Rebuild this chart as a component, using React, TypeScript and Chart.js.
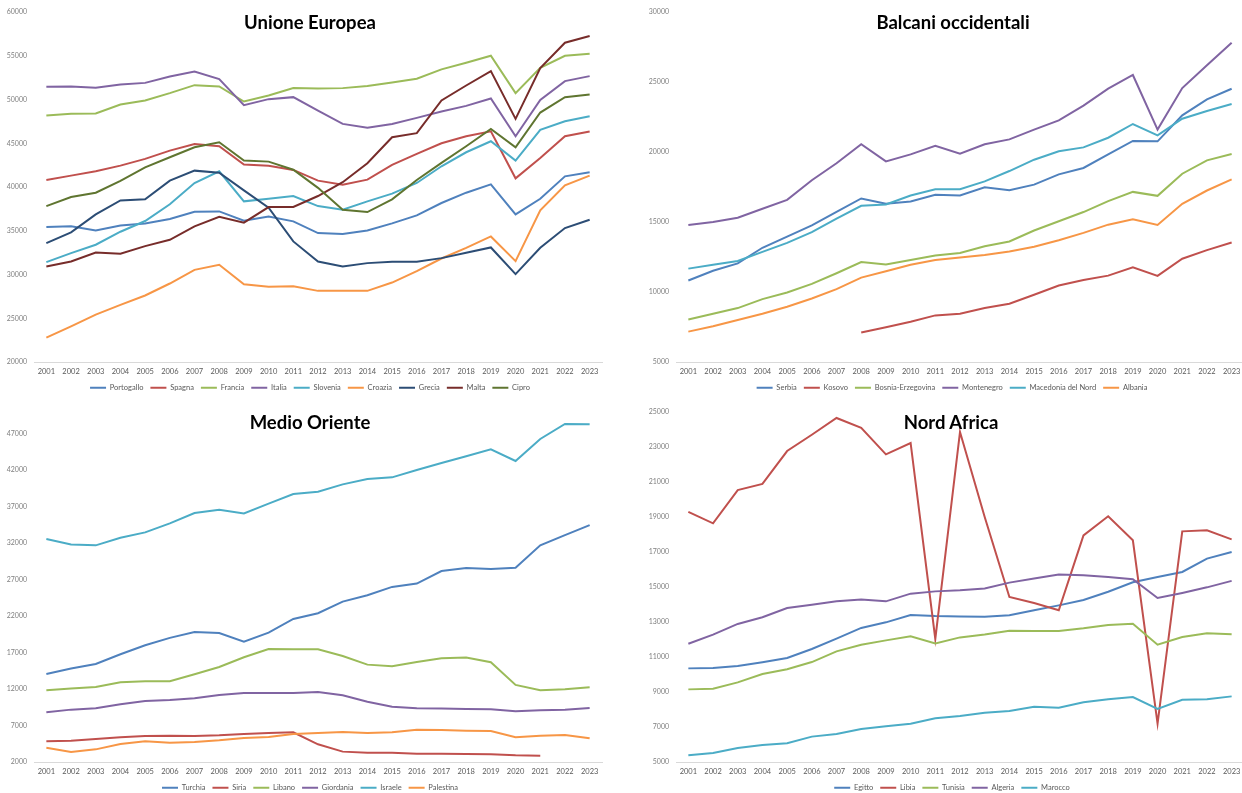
import React, { useEffect, useRef } from "react";
import { Chart, registerables } from "chart.js";

Chart.register(...registerables);

const FONT = "Lato, 'Open Sans', sans-serif";

const years = ["2001", "2002", "2003", "2004", "2005", "2006", "2007", "2008", "2009", "2010", "2011", "2012", "2013", "2014", "2015", "2016", "2017", "2018", "2019", "2020", "2021", "2022", "2023"];

// Unione Europea
const ueTicks = [20000, 25000, 30000, 35000, 40000, 45000, 50000, 55000, 60000];
const portogallo = [35420, 35500, 35040, 35610, 35840, 36340, 37180, 37210, 36150, 36640, 36070, 34730, 34620, 35040, 35840, 36760, 38170, 39350, 40300, 36870, 38660, 41220, 41680];
const spagna = [40800, 41300, 41790, 42440, 43210, 44160, 44920, 44660, 42560, 42440, 41950, 40730, 40270, 40840, 42520, 43780, 45000, 45800, 46370, 40990, 43320, 45800, 46340];
const francia = [48170, 48360, 48400, 49430, 49890, 50730, 51640, 51490, 49770, 50460, 51300, 51260, 51300, 51530, 51950, 52370, 53440, 54200, 55000, 50730, 53630, 55000, 55230];
const italia = [51450, 51490, 51340, 51720, 51900, 52630, 53200, 52330, 49350, 50040, 50270, 48740, 47210, 46760, 47210, 47900, 48630, 49270, 50110, 45800, 49960, 52100, 52670];
const slovenia = [31410, 32440, 33400, 34890, 36110, 38020, 40460, 41790, 38360, 38660, 38970, 37820, 37400, 38360, 39240, 40460, 42370, 43970, 45230, 43020, 46530, 47520, 48090];
const croazia = [22790, 24080, 25420, 26530, 27600, 28970, 30530, 31110, 28890, 28590, 28660, 28130, 28130, 28130, 29080, 30380, 31830, 33050, 34350, 31530, 37330, 40190, 41300];
const grecia = [33590, 34810, 36870, 38470, 38590, 40730, 41870, 41640, 39620, 37630, 33780, 31490, 30920, 31300, 31450, 31450, 31870, 32480, 33090, 30040, 33050, 35310, 36260];
const malta = [30920, 31490, 32520, 32370, 33240, 33970, 35500, 36600, 35920, 37710, 37710, 38970, 40550, 42710, 45690, 46150, 49890, 51600, 53240, 47790, 53590, 56490, 57250];
const cipro = [37820, 38850, 39350, 40700, 42250, 43400, 44540, 45110, 43020, 42900, 41980, 39900, 37400, 37140, 38590, 40800, 42750, 44660, 46640, 44540, 48510, 50270, 50570];

// Balcani occidentali
const balcaniTicks = [5000, 10000, 15000, 20000, 25000, 30000];
const serbia = [10820, 11520, 12040, 13160, 13960, 14760, 15730, 16680, 16300, 16470, 16940, 16890, 17480, 17270, 17670, 18400, 18860, 19830, 20790, 20760, 22620, 23760, 24520];
const kosovo = [null, null, null, null, null, null, null, 7100, 7480, 7880, 8330, 8450, 8850, 9160, 9800, 10460, 10860, 11170, 11760, 11150, 12380, 12990, 13530];
const bosnia = [8030, 8450, 8850, 9490, 9960, 10580, 11340, 12140, 11970, 12280, 12610, 12780, 13270, 13610, 14390, 15050, 15710, 16490, 17150, 16870, 18450, 19400, 19860];
const montenegro = [14790, 15000, 15310, 15950, 16580, 17980, 19200, 20550, 19330, 19830, 20450, 19880, 20550, 20900, 21600, 22260, 23310, 24520, 25500, 21600, 24570, 26190, 27810];
const macedonia = [11670, 11950, 12210, 12870, 13510, 14270, 15240, 16160, 16250, 16890, 17340, 17340, 17900, 18640, 19450, 20050, 20330, 21020, 22000, 21190, 22380, 22930, 23430];
const albania = [7170, 7550, 8000, 8450, 8950, 9540, 10200, 11030, 11480, 11950, 12280, 12470, 12640, 12900, 13230, 13700, 14220, 14810, 15190, 14790, 16300, 17250, 18050];

// Medio Oriente
const moTicks = [2000, 7000, 12000, 17000, 22000, 27000, 32000, 37000, 42000, 47000];
const turchia = [14050, 14790, 15420, 16750, 17980, 18990, 19810, 19670, 18480, 19720, 21590, 22370, 23960, 24830, 25970, 26430, 28140, 28550, 28420, 28600, 31660, 33070, 34440];
const siria = [4830, 4920, 5150, 5380, 5560, 5610, 5560, 5650, 5840, 5970, 6070, 4420, 3420, 3280, 3280, 3140, 3140, 3100, 3050, 2920, 2870, null, null];
const libano = [11820, 12050, 12270, 12910, 13050, 13050, 14010, 15010, 16340, 17480, 17430, 17430, 16520, 15330, 15110, 15700, 16200, 16290, 15650, 12550, 11820, 11950, 12230];
const giordania = [8800, 9170, 9350, 9900, 10360, 10490, 10720, 11180, 11450, 11450, 11450, 11590, 11130, 10260, 9580, 9350, 9310, 9260, 9220, 8940, 9080, 9170, 9400];
const israele = [32520, 31790, 31660, 32710, 33440, 34670, 36090, 36540, 36040, 37370, 38690, 39010, 40010, 40740, 40970, 41980, 42940, 43850, 44810, 43210, 46220, 48280, 48230];
const palestina = [3960, 3370, 3730, 4470, 4830, 4650, 4740, 4970, 5290, 5420, 5840, 5970, 6110, 5970, 6070, 6430, 6390, 6290, 6250, 5380, 5610, 5700, 5240];

// Nord Africa
const naTicks = [5000, 7000, 9000, 11000, 13000, 15000, 17000, 19000, 21000, 23000, 25000];
const egitto = [10350, 10370, 10490, 10700, 10940, 11460, 12050, 12660, 12980, 13400, 13340, 13320, 13300, 13380, 13670, 13950, 14260, 14730, 15270, 15570, 15860, 16620, 17000];
const libia = [19290, 18640, 20540, 20890, 22770, 23700, 24660, 24100, 22580, 23230, 12030, 23860, 19000, 14430, 14090, 13670, 17950, 19040, 17670, 7190, 18180, 18240, 17720];
const tunisia = [9150, 9190, 9550, 10030, 10300, 10710, 11320, 11700, 11950, 12180, 11780, 12120, 12280, 12500, 12490, 12490, 12640, 12830, 12900, 11700, 12140, 12350, 12300];
const algeria = [11760, 12280, 12890, 13270, 13800, 13990, 14180, 14280, 14180, 14620, 14750, 14810, 14920, 15250, 15480, 15720, 15670, 15570, 15440, 14370, 14660, 14980, 15350];
const marocco = [5380, 5510, 5800, 5970, 6070, 6450, 6600, 6890, 7040, 7190, 7500, 7630, 7820, 7910, 8160, 8100, 8410, 8580, 8710, 8030, 8560, 8580, 8750];

const BLUE = "#4F81BD";
const RED = "#C0504D";
const GREEN = "#9BBB59";
const PURPLE = "#8064A2";
const AQUA = "#4BACC6";
const ORANGE = "#F79646";
const DBLUE = "#2C4D75";
const DRED = "#772C2A";
const DGREEN = "#5F7530";

type Series = { label: string; color: string; data: (number | null)[] };

const ueSeries: Series[] = [
  { label: "Portogallo", color: BLUE, data: portogallo },
  { label: "Spagna", color: RED, data: spagna },
  { label: "Francia", color: GREEN, data: francia },
  { label: "Italia", color: PURPLE, data: italia },
  { label: "Slovenia", color: AQUA, data: slovenia },
  { label: "Croazia", color: ORANGE, data: croazia },
  { label: "Grecia", color: DBLUE, data: grecia },
  { label: "Malta", color: DRED, data: malta },
  { label: "Cipro", color: DGREEN, data: cipro },
];

const balcaniSeries: Series[] = [
  { label: "Serbia", color: BLUE, data: serbia },
  { label: "Kosovo", color: RED, data: kosovo },
  { label: "Bosnia-Erzegovina", color: GREEN, data: bosnia },
  { label: "Montenegro", color: PURPLE, data: montenegro },
  { label: "Macedonia del Nord", color: AQUA, data: macedonia },
  { label: "Albania", color: ORANGE, data: albania },
];

const moSeries: Series[] = [
  { label: "Turchia", color: BLUE, data: turchia },
  { label: "Siria", color: RED, data: siria },
  { label: "Libano", color: GREEN, data: libano },
  { label: "Giordania", color: PURPLE, data: giordania },
  { label: "Israele", color: AQUA, data: israele },
  { label: "Palestina", color: ORANGE, data: palestina },
];

const naSeries: Series[] = [
  { label: "Egitto", color: BLUE, data: egitto },
  { label: "Libia", color: RED, data: libia },
  { label: "Tunisia", color: GREEN, data: tunisia },
  { label: "Algeria", color: PURPLE, data: algeria },
  { label: "Marocco", color: AQUA, data: marocco },
];

type PanelProps = {
  left: number;
  top: number;
  padTop: number;
  title: string;
  titleX: number;
  titleY: number;
  series: Series[];
  min: number;
  max: number;
  tickValues: number[];
};

function Panel({ left, top, padTop, title, titleX, titleY, series, min, max, tickValues }: PanelProps) {
  const ref = useRef<HTMLCanvasElement>(null);
  useEffect(() => {
    const n = series.length;
    const chart = new Chart(ref.current as HTMLCanvasElement, {
      type: "line",
      data: {
        labels: years,
        datasets: series.map((s, i) => ({
          label: s.label,
          data: s.data,
          borderColor: s.color,
          backgroundColor: s.color,
          borderWidth: 2,
          pointRadius: 0,
          pointHoverRadius: 0,
          tension: 0,
          fill: false,
          spanGaps: false,
          order: n - i,
          yAxisID: "y",
        })),
      },
      options: {
        animation: false,
        responsive: false,
        maintainAspectRatio: false,
        devicePixelRatio: 1,
        events: [],
        layout: { padding: { top: padTop, left: 0, right: 0, bottom: 0 } },
        plugins: {
          title: { display: false },
          tooltip: { enabled: false },
          legend: {
            position: "bottom",
            maxHeight: 17,
            labels: {
              usePointStyle: true,
              pointStyle: "line",
              pointStyleWidth: 16,
              boxHeight: 8,
              padding: 7,
              color: "#595959",
              font: { family: FONT, size: 7.5 },
              sort: (a: any, b: any) => a.datasetIndex - b.datasetIndex,
            },
          },
        },
        scales: {
          x: {
            offset: true,
            grid: { display: false, drawTicks: false },
            border: { display: true, color: "#D9D9D9", width: 1 },
            ticks: { color: "#595959", padding: 5, font: { family: FONT, size: 7.5 }, maxRotation: 0, autoSkip: false },
            afterFit: (s: any) => {
              s.height = 15;
            },
          },
          y: {
            min,
            max,
            grid: { display: false, drawTicks: false },
            border: { display: false },
            ticks: {
              color: "#7F7F7F",
              padding: 7,
              font: { family: FONT, size: 7 },
              callback: (v: any) => String(v),
            },
            afterBuildTicks: (s: any) => {
              s.ticks = tickValues.map((v) => ({ value: v }));
            },
            afterFit: (s: any) => {
              s.width = 34;
            },
          },
          yPad: {
            type: "linear",
            position: "right",
            grid: { display: false, drawTicks: false },
            border: { display: false },
            ticks: { display: false },
            afterFit: (s: any) => {
              s.width = 18;
            },
          },
        },
      } as any,
    });
    return () => chart.destroy();
  }, []);
  return (
    <>
      <canvas
        ref={ref}
        width={620}
        height={394}
        style={{ position: "absolute", left, top, width: 620, height: 394 }}
      />
      <div
        style={{
          position: "absolute",
          left: titleX,
          top: titleY,
          transform: "translate(-50%, -50%)",
          fontFamily: FONT,
          fontWeight: 700,
          fontSize: 18.5,
          color: "#000",
          whiteSpace: "nowrap",
          lineHeight: 1,
        }}
      >
        {title}
      </div>
    </>
  );
}

export default function App() {
  return (
    <div
      style={{
        position: "fixed",
        left: 0,
        top: 0,
        width: 1242,
        height: 793,
        overflow: "hidden",
        background: "#fff",
      }}
    >
      <Panel left={0} top={0} padTop={12} title="Unione Europea" titleX={310} titleY={22} series={ueSeries} min={20000} max={60000} tickValues={ueTicks} />
      <Panel left={642} top={0} padTop={12} title="Balcani occidentali" titleX={953} titleY={22} series={balcaniSeries} min={5000} max={30000} tickValues={balcaniTicks} />
      <Panel left={0} top={400} padTop={11.4} title="Medio Oriente" titleX={310} titleY={422} series={moSeries} min={2000} max={50000} tickValues={moTicks} />
      <Panel left={642} top={400} padTop={12} title="Nord Africa" titleX={951} titleY={422} series={naSeries} min={5000} max={25000} tickValues={naTicks} />
    </div>
  );
}
